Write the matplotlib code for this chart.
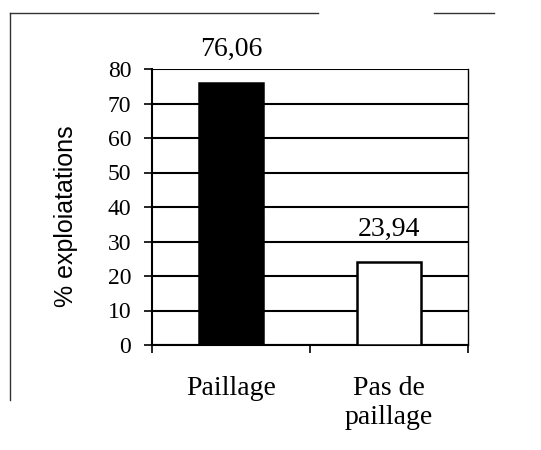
import matplotlib
matplotlib.use("Agg")
import matplotlib.pyplot as plt
from matplotlib.lines import Line2D

categories = ["Paillage", "Pas de\npaillage"]
values = [76.06, 23.94]
value_labels = ["76,06", "23,94"]
bar_colors = ["black", "white"]
yticks = [0, 10, 20, 30, 40, 50, 60, 70, 80]

W, H = 541, 450
fig = plt.figure(figsize=(W / 100, H / 100), dpi=100)
ax = fig.add_axes([152 / W, 1 - 345 / H, (468 - 152) / W, (345 - 69) / H])

x = list(range(len(categories)))
ax.bar(x, values, width=0.41, color=bar_colors, edgecolor="black", linewidth=1.8, zorder=3)

ax.set_xlim(-0.5, 1.5)
ax.set_ylim(0, 80)
ax.set_yticks(yticks)
ax.set_yticklabels([str(v) for v in yticks], fontfamily="Liberation Serif", fontsize=17)
ax.yaxis.grid(True, color="black", linewidth=1.5, zorder=0)
ax.set_axisbelow(True)

ax.set_xticks(x)
ax.set_xticklabels(categories, fontfamily="Liberation Serif", fontsize=20, linespacing=1.25)
ax.tick_params(axis="x", which="major", length=0, pad=22)
ax.set_xticks([-0.5, 0.5, 1.5], minor=True)
ax.tick_params(axis="x", which="minor", length=6, width=1.2, direction="out", color="black")
ax.tick_params(axis="y", length=6, width=1.2, direction="out", pad=9, color="black")

for s in ["left", "bottom"]:
    ax.spines[s].set_linewidth(1.5)
    ax.spines[s].set_color("black")
ax.spines["right"].set_linewidth(1.0)
ax.spines["top"].set_visible(False)

for xi, v, lab in zip(x, values, value_labels):
    ax.annotate(lab, (xi, v), xytext=(0, 21), textcoords="offset pixels",
                ha="center", va="bottom", fontfamily="Liberation Serif", fontsize=20)

ax.set_ylabel("% exploiatations", fontfamily="Liberation Sans", fontsize=18)
ax.yaxis.set_label_coords((78 - 152) / 316, (345 - 216) / 276)

# scanned frame lines
fig.add_artist(Line2D([10 / W, 318 / W], [1 - 13 / H, 1 - 13 / H], color="#333333", linewidth=1.0))
fig.add_artist(Line2D([434 / W, 494 / W], [1 - 13 / H, 1 - 13 / H], color="#333333", linewidth=1.0))
fig.add_artist(Line2D([10 / W, 10 / W], [1 - 13 / H, 1 - 400 / H], color="#333333", linewidth=1.0))

fig.savefig("out.png", dpi=100)
